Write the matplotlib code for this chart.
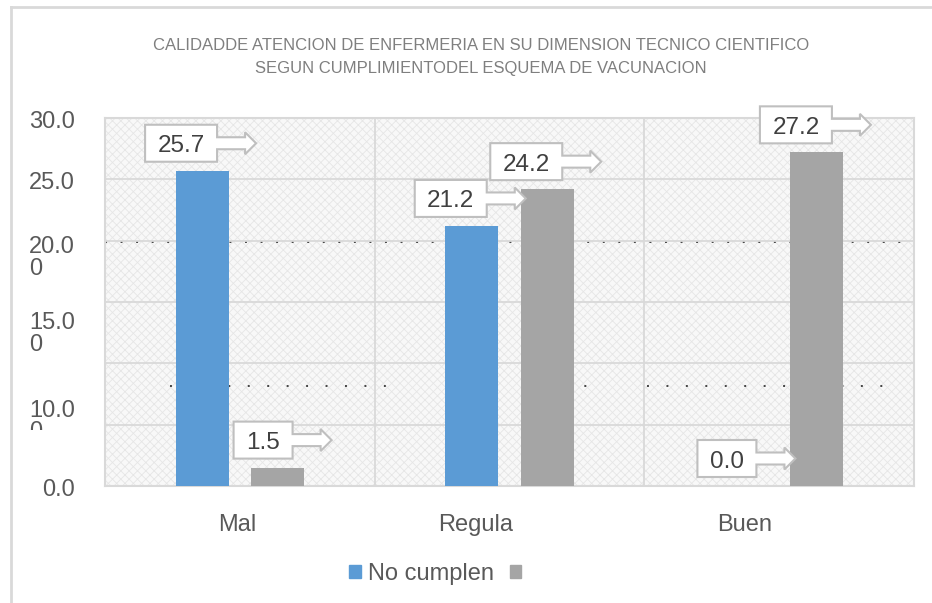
import numpy as np
import matplotlib.pyplot as plt
from matplotlib.patches import Polygon, Patch, Rectangle
from matplotlib.lines import Line2D
from matplotlib.transforms import ScaledTranslation, Bbox, IdentityTransform, blended_transform_factory

categories = ["Mal", "Regula", "Buen"]
no_cumplen = [25.7, 21.2, 0.0]
cumplen = [1.5, 24.2, 27.2]
series_labels = ["No cumplen", ""]
y_tick_labels = ["0.0", "10.0\n0", "15.0\n0", "20.0\n0", "25.0", "30.0"]
y_tick_label_pos = [0.6, 7.05, 14.15, 20.35, 25.6, 30.6]
title_lines = ["CALIDADDE ATENCION DE ENFERMERIA EN SU DIMENSION TECNICO CIENTIFICO",
               "SEGUN CUMPLIMIENTODEL ESQUEMA DE VACUNACION"]

BLUE = "#5b9bd5"
GREY = "#a5a5a5"
GRID = "#d9d9d9"
TXT = "#595959"

plt.rcParams['font.family'] = ['Liberation Sans', 'DejaVu Sans']
plt.rcParams['hatch.linewidth'] = 0.6

W, H = 932, 603
fig = plt.figure(figsize=(W / 100, H / 100), dpi=100)
ax = fig.add_axes([105 / W, 1 - 486 / H, 809 / W, 368 / H])

# outer chart frame (only top/left visible in the picture)
fig.add_artist(Line2D([11 / W, 11 / W], [0, 1 - 7 / H], color=GRID, lw=2))
fig.add_artist(Line2D([11 / W, 1], [1 - 7 / H, 1 - 7 / H], color=GRID, lw=2))

ax.set_xlim(-0.5, 2.5)
ax.set_ylim(0, 30)

# textured plot background
ax.set_facecolor("#f8f8f8")
ax.add_patch(Rectangle((0, 0), 1, 1, transform=ax.transAxes, facecolor="none",
                       edgecolor="#e6e6e6", hatch="xxxx", lw=0, zorder=0))

ax.set_yticks(np.arange(0, 31, 5))
ax.set_yticklabels([])
ax.tick_params(axis="y", length=0)
ax.grid(axis="y", color=GRID, lw=1.3, zorder=1)
for xb in [0.5, 1.5]:
    ax.axvline(xb, color=GRID, lw=1.3, zorder=1)
for s in ax.spines.values():
    s.set_color(GRID)
    s.set_linewidth(1.5)

# scan specks
ax.axhline(19.9, color="#444444", lw=1.4, ls=(0, (1, 7)), zorder=1.5)
for a, b in [(0.08, 0.35), (0.52, 0.6), (0.67, 0.97)]:
    ax.axhline(8.15, xmin=a, xmax=b, color="#444444", lw=1.4, ls=(0, (1, 9)), zorder=1.5)

x = np.arange(len(categories))
bw = 0.196
off = 0.14
ax.bar(x - off, no_cumplen, bw, color=BLUE, zorder=3, label=series_labels[0])
ax.bar(x + off, cumplen, bw, color=GREY, zorder=3, label=series_labels[1])

ax.set_xticks(x)
ax.set_xticklabels(categories, fontsize=17, color=TXT)
ax.tick_params(axis="x", length=0, pad=20)
label_dx = [-3, -34, -35]
for lab, dx in zip(ax.get_xticklabels(), label_dx):
    lab.set_transform(lab.get_transform() + ScaledTranslation(dx / 100, 0, fig.dpi_scale_trans))

ytr = blended_transform_factory(ax.transAxes, ax.transData)
for lab, pos in zip(y_tick_labels, y_tick_label_pos):
    t = ax.text(-30 / 809, pos, lab, transform=ytr, ha="right", va="top",
                multialignment="left", fontsize=17, color=TXT, linespacing=0.95)
    if lab.startswith("10"):
        t.set_clip_box(Bbox([[0, 173], [105, 603]]))
        t.set_clip_on(True)


def callout(xv, yv, text):
    px, py = ax.transData.transform((xv, yv))
    w = 72 if len(text) > 3 else 59
    h = 37
    r = px + 15
    l = r - w
    b = py + 9
    t = b + h
    cy = (b + t) / 2
    verts = [(l, b), (r, b), (r, cy - 6), (r + 28, cy - 6), (r + 28, cy - 11),
             (r + 39, cy), (r + 28, cy + 11), (r + 28, cy + 6), (r, cy + 6), (r, t), (l, t)]
    ax.add_patch(Polygon(verts, closed=True, facecolor="white", edgecolor="#bfbfbf",
                         lw=1.5, transform=IdentityTransform(), clip_on=False, zorder=5))
    ax.text((l + r) / 2, cy - 3, text, transform=IdentityTransform(), ha="center",
            va="center", fontsize=17.5, color="#404040", zorder=6)


for xi, v in zip(x - off, no_cumplen):
    callout(xi, v, f"{v:.1f}")
for xi, v in zip(x + off, cumplen):
    callout(xi, v, f"{v:.1f}")

fig.text(481 / W, 1 - 46 / H, title_lines[0], ha="center", va="center", fontsize=12,
         color="#7f7f7f", family=["Liberation Sans Narrow", "Liberation Sans"])
fig.text(481 / W, 1 - 69 / H, title_lines[1], ha="center", va="center", fontsize=12,
         color="#7f7f7f", family=["Liberation Sans Narrow", "Liberation Sans"])

handles = [Patch(color=BLUE), Patch(color=GREY)]
fig.legend(handles, series_labels, loc="center", bbox_to_anchor=(439 / W, 1 - 574 / H),
           ncol=2, frameon=False, fontsize=17, labelcolor=TXT, handlelength=0.5,
           handleheight=0.5, handletextpad=0.3, columnspacing=0.65, borderpad=0)

fig.savefig("out.png", dpi=100)
